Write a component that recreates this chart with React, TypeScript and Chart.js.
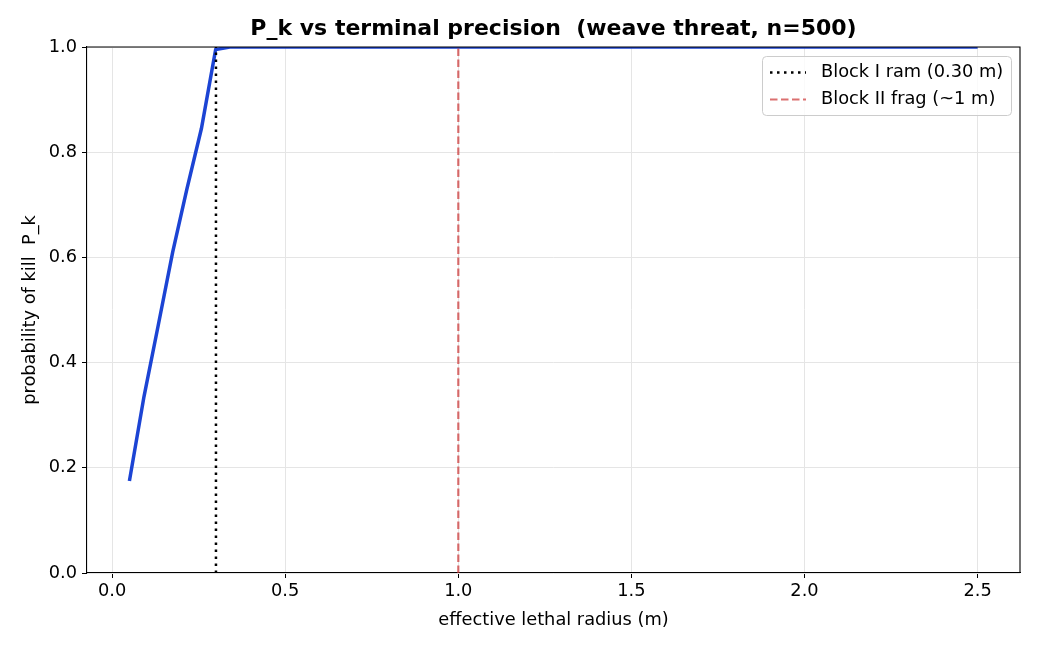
import React, { useEffect, useRef } from "react";
import { Chart, registerables } from "chart.js";
Chart.register(...registerables);

const radius = [0.05, 0.092, 0.133, 0.175, 0.216, 0.258, 0.299, 0.34, 0.5, 1.0, 1.5, 2.0, 2.5];
const pk = [0.175, 0.335, 0.47, 0.61, 0.73, 0.845, 0.995, 1.0, 1.0, 1.0, 1.0, 1.0, 1.0];
const blockIRam = 0.3;
const blockIIFrag = 1.0;
const xTicks = [0, 0.5, 1.0, 1.5, 2.0, 2.5];
const yTicks = [0, 0.2, 0.4, 0.6, 0.8, 1.0];
const legendLabels = ["Block I ram (0.30 m)", "Block II frag (~1 m)"];
const titleText = "P_k vs terminal precision  (weave threat, n=500)";
const xLabel = "effective lethal radius (m)";
const yLabel = "probability of kill  P_k";

const FONT = "'DejaVu Sans', sans-serif";
const FS = 17.8;
const BLUE = "#1c44d4";
const RED = "rgba(204,51,51,0.7)";

const overlay = {
  id: "overlay",
  afterDraw(chart: any) {
    const { ctx, chartArea: a } = chart;
    ctx.save();
    ctx.strokeStyle = "#000";
    ctx.lineWidth = 1.1;
    ctx.beginPath();
    ctx.moveTo(a.left, a.top);
    ctx.lineTo(a.right, a.top);
    ctx.lineTo(a.right, a.bottom);
    ctx.stroke();
    ctx.fillStyle = "#000";
    ctx.font = `bold 22px ${FONT}`;
    ctx.textAlign = "center";
    ctx.textBaseline = "middle";
    ctx.fillText(titleText, (a.left + a.right) / 2, 29);
    const bx = 762, by = 56, bw = 249, bh = 59;
    ctx.fillStyle = "rgba(255,255,255,0.8)";
    ctx.strokeStyle = "#cccccc";
    ctx.lineWidth = 1;
    ctx.beginPath();
    (ctx as any).roundRect(bx + 0.5, by + 0.5, bw, bh, 4);
    ctx.fill();
    ctx.stroke();
    const rows = [
      { y: 72.5, color: "#000", dash: [2.5, 4.5], w: 2.5 },
      { y: 99.5, color: RED, dash: [7.5, 3.5], w: 2.2 },
    ];
    rows.forEach((r, i) => {
      ctx.strokeStyle = r.color;
      ctx.lineWidth = r.w;
      ctx.setLineDash(r.dash);
      ctx.beginPath();
      ctx.moveTo(770, r.y);
      ctx.lineTo(806, r.y);
      ctx.stroke();
      ctx.setLineDash([]);
      ctx.fillStyle = "#000";
      ctx.font = `${FS}px ${FONT}`;
      ctx.textAlign = "left";
      ctx.textBaseline = "middle";
      ctx.fillText(legendLabels[i], 821, r.y);
    });
    ctx.restore();
  },
};

export default function App() {
  const ref = useRef<HTMLCanvasElement>(null);
  useEffect(() => {
    document.body.style.margin = "0";
    const chart = new Chart(ref.current!, {
      type: "line",
      data: {
        datasets: [
          {
            label: legendLabels[0],
            data: [
              { x: blockIRam, y: 0 },
              { x: blockIRam, y: 1 },
            ],
            borderColor: "#000",
            borderWidth: 2.5,
            borderDash: [2.5, 4.5],
            pointRadius: 0,
            order: 0,
          },
          {
            label: legendLabels[1],
            data: [
              { x: blockIIFrag, y: 0 },
              { x: blockIIFrag, y: 1 },
            ],
            borderColor: RED,
            borderWidth: 2.2,
            borderDash: [7.5, 3.5],
            pointRadius: 0,
            order: 0,
          },
          {
            label: "P_k",
            data: radius.map((x, i) => ({ x, y: pk[i] })),
            borderColor: BLUE,
            borderWidth: 3.5,
            pointRadius: 0,
            tension: 0,
            clip: 0 as any,
            order: 1,
          },
        ],
      },
      options: {
        animation: false,
        responsive: false,
        devicePixelRatio: 1,
        layout: { padding: { top: 47, right: 20, left: 0, bottom: 0 } },
        plugins: { legend: { display: false }, tooltip: { enabled: false }, title: { display: false } },
        scales: {
          x: {
            type: "linear",
            min: -0.0725,
            max: 2.6225,
            afterBuildTicks: (s: any) => {
              s.ticks = xTicks.map((v) => ({ value: v }));
            },
            afterFit: (s: any) => {
              s.height = 77;
            },
            ticks: {
              color: "#000",
              font: { family: FONT, size: FS },
              padding: 3,
              callback: (v: any) => Number(v).toFixed(1),
              maxRotation: 0,
            },
            grid: { color: "#e5e5e5", lineWidth: 1, tickColor: "#000", tickLength: 5, drawTicks: true },
            border: { color: "#000", width: 1.1 },
            title: {
              display: true,
              text: xLabel,
              color: "#000",
              font: { family: FONT, size: FS },
              padding: { top: 0, bottom: 19 },
            },
          },
          y: {
            type: "linear",
            min: 0,
            max: 1,
            afterBuildTicks: (s: any) => {
              s.ticks = yTicks.map((v) => ({ value: v }));
            },
            afterFit: (s: any) => {
              s.width = 87;
            },
            ticks: {
              color: "#000",
              font: { family: FONT, size: FS },
              padding: 5,
              callback: (v: any) => Number(v).toFixed(1),
            },
            grid: { color: "#e5e5e5", lineWidth: 1, tickColor: "#000", tickLength: 5, drawTicks: true },
            border: { color: "#000", width: 1.1 },
            title: {
              display: true,
              text: yLabel,
              color: "#000",
              font: { family: FONT, size: FS },
              padding: { top: 20, bottom: 0 },
            },
          },
        },
      },
      plugins: [overlay],
    });
    return () => chart.destroy();
  }, []);
  return (
    <div style={{ width: 1040, height: 650 }}>
      <canvas ref={ref} width={1040} height={650} />
    </div>
  );
}
